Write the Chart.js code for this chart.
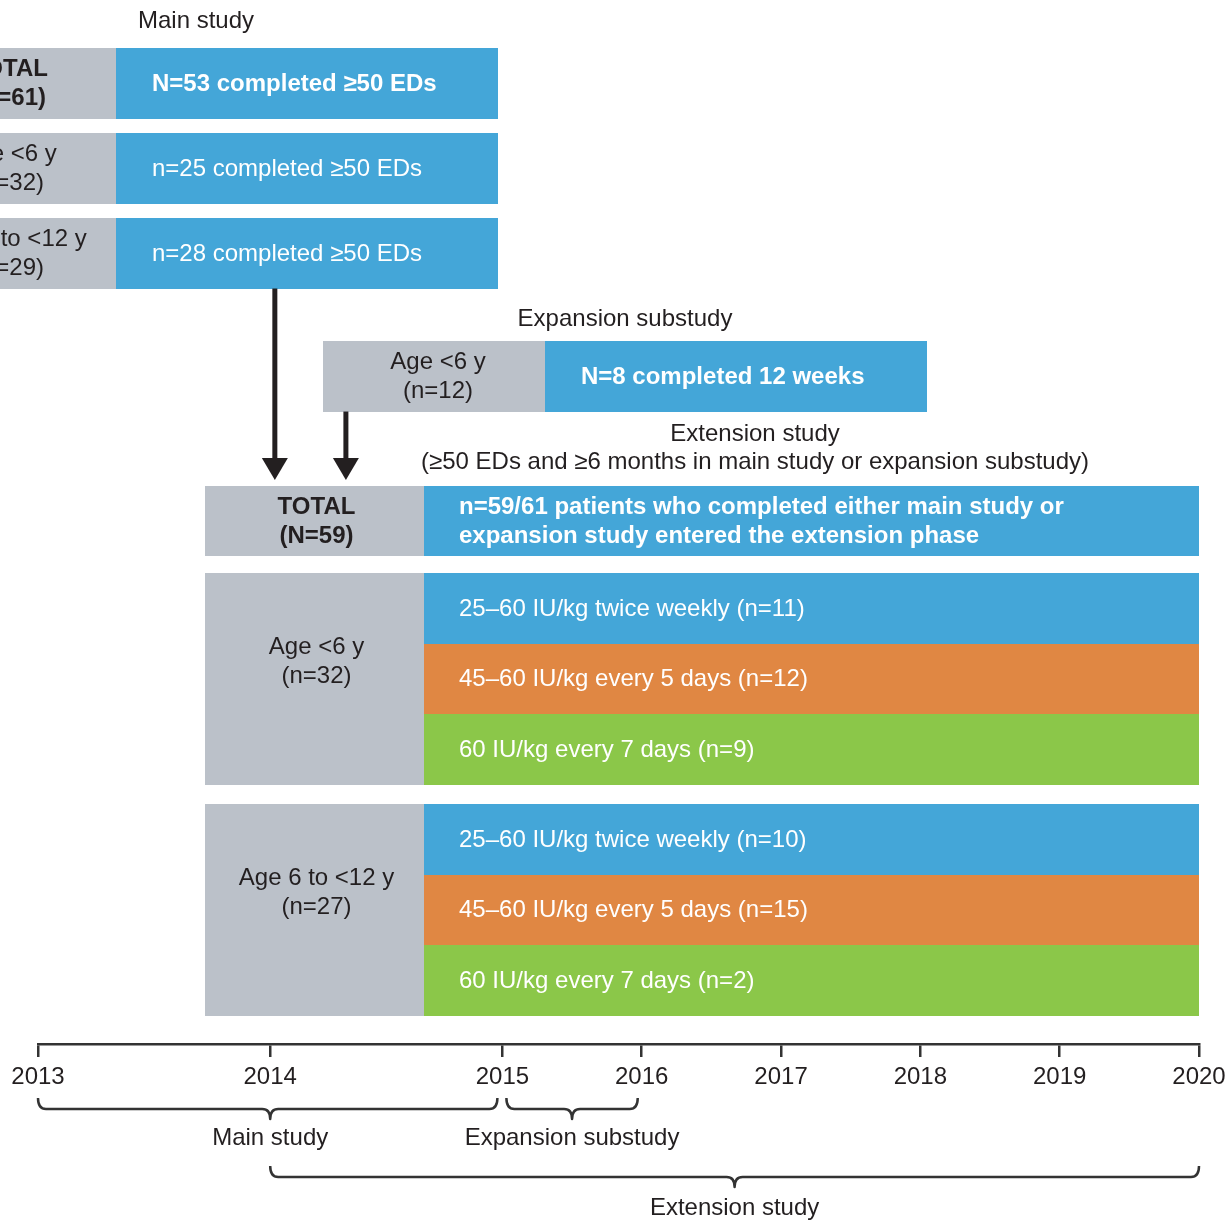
<!DOCTYPE html>
<html lang="en">
<head>
<meta charset="UTF-8">
<title>Study timeline</title>
<script src="https://cdn.jsdelivr.net/npm/chart.js"></script>
<style>
  html, body { margin: 0; padding: 0; background: #fff; }
</style>
</head>
<body>
<canvas id="timeline" width="1227" height="1220"></canvas>
<script>
// ---- data ----
const years = [2013, 2014, 2015, 2016, 2017, 2018, 2019, 2020];
const yearPos = [0, 5, 10, 13, 16, 19, 22, 25];   // first two years are drawn wider

// main study
const mainGroups = ['TOTAL', 'Age <6 y', 'Age 6 to <12 y'];
const mainEnrolled = [61, 32, 29];
const mainCompleted = [53, 25, 28];
const mainEDs = 50;

// expansion substudy
const expGroup = 'Age <6 y';
const expEnrolled = 12;
const expCompleted = 8;
const expWeeks = 12;

// extension study
const extEntered = 59;
const extEligible = 61;
const extGroups = ['Age <6 y', 'Age 6 to <12 y'];
const extGroupN = [32, 27];
const regimens = ['25–60 IU/kg twice weekly', '45–60 IU/kg every 5 days', '60 IU/kg every 7 days'];
const regimenYoung = [11, 12, 9];
const regimenOlder = [10, 15, 2];

// study periods shown with braces under the axis
const periodNames = ['Main study', 'Expansion substudy', 'Extension study'];
const periodStart = [2013, 2015, 2014];
const periodEnd = [2015, 2016, 2020];

// ---- layout / style ----
const FONT = "'Liberation Sans', Arial, Helvetica, sans-serif";
const C = { gray: '#bbc1c9', blue: '#44a6d8', orange: '#e08743', green: '#8bc749', ink: '#231f20', line: '#333333' };
const regimenColors = [C.blue, C.orange, C.green];
// x in timeline units, y in row units (one box = one row)
const mainBox = { x0: -3.10, split: 1.68, x1: 9.905, tops: [0.68, 1.885, 3.09], titleY: 0.284 };
const expBox = { x0: 6.137, split: 10.917, x1: 19.143, top: 4.834, titleY: 4.508 };
const extBox = { x0: 3.596, split: 8.312, x1: 25, top: 6.889, titleX: 15.44, titleY: [6.138, 6.535],
                 groupTops: [8.123, 11.398] };
const arrows = [{ x: 5.10, from: 4.09, to: 6.804 }, { x: 6.63, from: 5.834, to: 6.804 }];
const braceRows = [15.72, 15.72, 16.686];
const braceLabelY = [16.13, 16.13, 17.11];
const braceInset = [[0, 5], [4, 4], [0, 0]];
const LINE_GAP = 0.205;
const PAD = 36;

function yearToX(yr) {
  for (let i = 1; i < years.length; i++) {
    if (yr <= years[i]) return yearPos[i - 1] + (yr - years[i - 1]) * (yearPos[i] - yearPos[i - 1]);
  }
  return yearPos[yearPos.length - 1];
}

const diagram = {
  id: 'diagram',
  afterDraw(chart) {
    const ctx = chart.ctx;
    const xs = chart.scales.x, ys = chart.scales.y;
    const X = v => Math.round(xs.getPixelForValue(v));
    const Y = v => Math.round(ys.getPixelForValue(v));

    const box = (x0, x1, top, h, color) => {
      ctx.fillStyle = color;
      ctx.fillRect(X(x0), Y(top), X(x1) - X(x0), Y(top + h) - Y(top));
    };
    const text = (lines, px, yc, align, bold, color) => {
      ctx.font = (bold ? 'bold ' : '') + '24px ' + FONT;
      ctx.fillStyle = color;
      ctx.textAlign = align;
      ctx.textBaseline = 'middle';
      const n = lines.length;
      lines.forEach((s, i) => {
        const off = (i - (n - 1) / 2) * 2 * LINE_GAP;
        ctx.fillText(s, px, ys.getPixelForValue(yc + off) + 1);
      });
    };
    const mid = (a, b) => (xs.getPixelForValue(a) + xs.getPixelForValue(b)) / 2;

    ctx.save();

    // main study
    text(['Main study'], mid(mainBox.x0, mainBox.x1), mainBox.titleY, 'center', false, C.ink);
    mainGroups.forEach((g, i) => {
      const t = mainBox.tops[i], bold = i === 0, N = i === 0 ? 'N' : 'n';
      box(mainBox.x0, mainBox.split, t, 1, C.gray);
      box(mainBox.split, mainBox.x1, t, 1, C.blue);
      text([g, '(' + N + '=' + mainEnrolled[i] + ')'], mid(mainBox.x0, mainBox.split) + 4, t + 0.5, 'center', bold, C.ink);
      text([N + '=' + mainCompleted[i] + ' completed ≥' + mainEDs + ' EDs'], X(mainBox.split) + PAD, t + 0.5, 'left', bold, '#fff');
    });

    // expansion substudy
    text(['Expansion substudy'], mid(expBox.x0, expBox.x1), expBox.titleY, 'center', false, C.ink);
    box(expBox.x0, expBox.split, expBox.top, 1, C.gray);
    box(expBox.split, expBox.x1, expBox.top, 1, C.blue);
    text([expGroup, '(n=' + expEnrolled + ')'], mid(expBox.x0, expBox.split) + 4, expBox.top + 0.5, 'center', false, C.ink);
    text(['N=' + expCompleted + ' completed ' + expWeeks + ' weeks'], X(expBox.split) + PAD, expBox.top + 0.5, 'left', true, '#fff');

    // extension study
    const ex = xs.getPixelForValue(extBox.titleX);
    text(['Extension study'], ex, extBox.titleY[0], 'center', false, C.ink);
    text(['(≥50 EDs and ≥6 months in main study or expansion substudy)'], ex, extBox.titleY[1], 'center', false, C.ink);
    box(extBox.x0, extBox.split, extBox.top, 1, C.gray);
    box(extBox.split, extBox.x1, extBox.top, 1, C.blue);
    text(['TOTAL', '(N=' + extEntered + ')'], mid(extBox.x0, extBox.split) + 2, extBox.top + 0.5, 'center', true, C.ink);
    text(['n=' + extEntered + '/' + extEligible + ' patients who completed either main study or',
          'expansion study entered the extension phase'],
         X(extBox.split) + PAD - 1, extBox.top + 0.5, 'left', true, '#fff');

    [regimenYoung, regimenOlder].forEach((counts, g) => {
      const t = extBox.groupTops[g];
      box(extBox.x0, extBox.split, t, regimens.length, C.gray);
      text([extGroups[g], '(n=' + extGroupN[g] + ')'], mid(extBox.x0, extBox.split) + 2, t + regimens.length / 2 - 0.25, 'center', false, C.ink);
      regimens.forEach((r, k) => {
        box(extBox.split, extBox.x1, t + k, 1, regimenColors[k]);
        text([r + ' (n=' + counts[k] + ')'], X(extBox.split) + PAD - 1, t + k + 0.5, 'left', false, '#fff');
      });
    });

    // arrows
    ctx.fillStyle = C.ink;
    ctx.strokeStyle = C.ink;
    arrows.forEach(a => {
      const x = xs.getPixelForValue(a.x), y0 = ys.getPixelForValue(a.from), y1 = ys.getPixelForValue(a.to);
      ctx.fillRect(x - 2.5, y0, 5, y1 - y0 - 20);
      ctx.beginPath();
      ctx.moveTo(x - 13, y1 - 22);
      ctx.lineTo(x + 13, y1 - 22);
      ctx.lineTo(x, y1);
      ctx.closePath();
      ctx.fill();
    });

    // braces under the axis
    ctx.strokeStyle = C.line;
    ctx.lineWidth = 2.5;
    ctx.lineJoin = 'round';
    periodNames.forEach((name, i) => {
      const a = yearToX(periodStart[i]), b = yearToX(periodEnd[i]);
      const xl = xs.getPixelForValue(a) + braceInset[i][0];
      const xr = xs.getPixelForValue(b) - braceInset[i][1];
      const xm = mid(a, b);
      const yl = ys.getPixelForValue(braceRows[i]);
      const r = 8, up = 11, tip = 10;
      ctx.beginPath();
      ctx.moveTo(xl, yl - up);
      ctx.quadraticCurveTo(xl, yl, xl + r, yl);
      ctx.lineTo(xm - r, yl);
      ctx.quadraticCurveTo(xm, yl, xm, yl + tip);
      ctx.quadraticCurveTo(xm, yl, xm + r, yl);
      ctx.lineTo(xr - r, yl);
      ctx.quadraticCurveTo(xr, yl, xr, yl - up);
      ctx.stroke();
      text([name], xm, braceLabelY[i], 'center', false, C.ink);
    });

    ctx.restore();
  }
};

new Chart(document.getElementById('timeline'), {
  type: 'scatter',
  data: { datasets: [{ data: [] }] },
  options: {
    responsive: false,
    animation: false,
    devicePixelRatio: 1,
    layout: { padding: { left: 38, right: 28, top: 0, bottom: 0 } },
    plugins: { legend: { display: false }, tooltip: { enabled: false } },
    scales: {
      x: {
        type: 'linear',
        min: 0,
        max: 25,
        afterBuildTicks: s => { s.ticks = yearPos.map(v => ({ value: v })); },
        afterFit: s => { s.height = 176; s.paddingLeft = 0; s.paddingRight = 0; },
        ticks: {
          autoSkip: false,
          maxRotation: 0,
          padding: 6,
          color: C.ink,
          font: { family: FONT, size: 24 },
          callback: v => years[yearPos.indexOf(v)]
        },
        grid: { drawOnChartArea: false, tickLength: 13, color: C.line, lineWidth: 2.5 },
        border: { display: true, color: C.line, width: 2.5 }
      },
      y: { type: 'linear', min: 0, max: 14.8, reverse: true, display: false }
    }
  },
  plugins: [diagram]
});
</script>
</body>
</html>
